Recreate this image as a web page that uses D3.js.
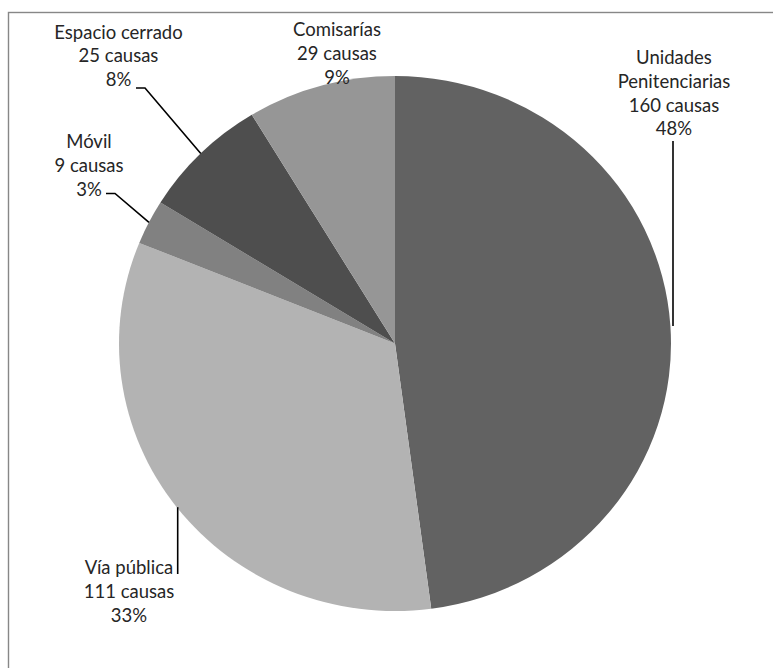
<!DOCTYPE html>
<html>
<head>
<meta charset="utf-8">
<script src="https://cdn.jsdelivr.net/npm/d3@7"></script>
<style>
  html, body { margin: 0; padding: 0; background: #fff; }
  svg { display: block; }
  text { font-family: Lato, "Open Sans", sans-serif; fill: #262626; }
</style>
</head>
<body>
<svg id="chart" width="773" height="668"></svg>
<script>
// Causas por lugar de ocurrencia
const categories = ["Unidades Penitenciarias", "Vía pública", "Móvil", "Espacio cerrado", "Comisarías"];
const causas = [160, 111, 9, 25, 29];
const percentLabels = ["48%", "33%", "3%", "8%", "9%"];
const nameLines = [["Unidades", "Penitenciarias"], ["Vía pública"], ["Móvil"], ["Espacio cerrado"], ["Comisarías"]];
const sliceColors = ["#626262", "#b3b3b3", "#818181", "#4e4e4e", "#969696"];

const W = 773, H = 668;
const cx = 395, cy = 343.5, rx = 276, ry = 267.5;
const fontSize = 18.5, lineGap = 23.8;

const svg = d3.select("#chart");

// chart frame
svg.append("rect")
  .attr("x", 8.5).attr("y", 12.5)
  .attr("width", W + 20).attr("height", H + 20)
  .attr("fill", "none").attr("stroke", "#878787").attr("stroke-width", 1.4);

const data = categories.map((c, i) => ({ name: c, value: causas[i], i }));
const pie = d3.pie().value(d => d.value).sort(null);
const arcs = pie(data);
const arc = d3.arc().innerRadius(0).outerRadius(rx);

svg.append("g")
  .attr("transform", `translate(${cx},${cy}) scale(1,${ry / rx})`)
  .selectAll("path")
  .data(arcs)
  .join("path")
  .attr("d", arc)
  .attr("fill", d => sliceColors[d.data.i]);

// point on the pie rim at the middle of a slice
function rimPoint(a) {
  const m = (a.startAngle + a.endAngle) / 2;
  return [cx + rx * Math.sin(m), cy - ry * Math.cos(m)];
}

// label placement: centre x, first baseline, leader elbow
const labelLayout = [
  { x: 674, y: 64, leader: (e) => [[673, 141], [673, e[1]]] },
  { x: 129, y: 574, leader: (e) => [[e[0] + 1, e[1]], [e[0] + 1, 574]] },
  { x: 89, y: 148, leader: (e) => [[106, 193.5], [115, 193.5], e] },
  { x: 118.5, y: 38.5, leader: (e) => [[136, 88], [145, 88], e] },
  { x: 337, y: 36, leader: null }
];

const line = d3.line();
arcs.forEach((a, k) => {
  const L = labelLayout[k];
  const lines = nameLines[k].concat([causas[k] + " causas", percentLabels[k]]);
  const t = svg.append("text")
    .attr("text-anchor", "middle")
    .attr("font-size", fontSize);
  lines.forEach((s, j) => {
    t.append("tspan").attr("x", L.x).attr("y", L.y + j * lineGap).text(s);
  });
  if (L.leader) {
    svg.append("path")
      .attr("d", line(L.leader(rimPoint(a))))
      .attr("fill", "none")
      .attr("stroke", "#000")
      .attr("stroke-width", 1.6);
  }
});
</script>
</body>
</html>
